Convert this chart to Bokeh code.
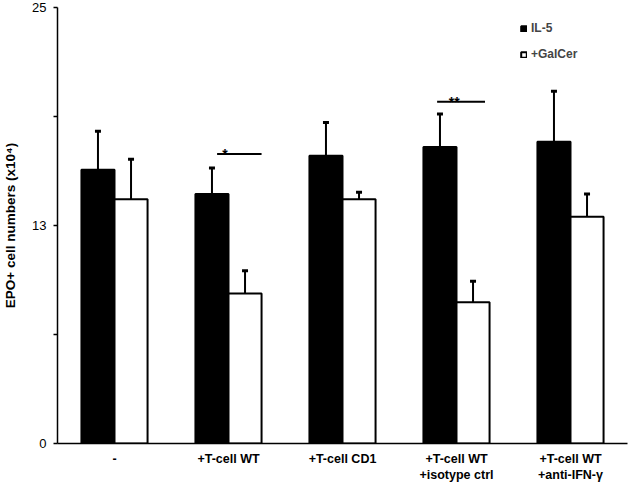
from bokeh.plotting import figure
from bokeh.models import (FactorRange, Range1d, FixedTicker, CustomJSTickFormatter,
                          ColumnDataSource, Legend, LegendItem)
from bokeh.transform import dodge
from bokeh.embed import file_html
from bokeh.resources import INLINE
from bokeh.core.properties import value

# ---- data ----
groups = ["-", "+T-cell WT", "+T-cell CD1", "+T-cell WT\n+isotype ctrl", "+T-cell WT\n+anti-IFN-γ"]
il5_mean = [15.7, 14.3, 16.5, 17.0, 17.3]
il5_err = [2.2, 1.5, 1.9, 1.9, 2.9]
galcer_mean = [14.0, 8.6, 14.0, 8.1, 13.0]
galcer_err = [2.3, 1.3, 0.4, 1.2, 1.3]
y_ticks = [0, 12.5, 25]
y_minor_ticks = [6.25, 18.75]
sig_groups = ["+T-cell WT", "+T-cell WT\n+isotype ctrl"]
sig_level = [16.6, 19.6]
sig_marks = ["*", "**"]

FONT = "Liberation Sans"

p = figure(width=629, height=485, output_backend="svg", toolbar_location=None,
           x_range=FactorRange(*groups, range_padding=0), y_range=Range1d(0, 25),
           min_border_left=54, min_border_right=2, min_border_top=7, min_border_bottom=42)
p.outline_line_color = None
p.xgrid.visible = False
p.ygrid.visible = False
p.background_fill_color = "white"

src = ColumnDataSource(dict(
    cat=groups,
    il5=il5_mean,
    il5_top=[m + e for m, e in zip(il5_mean, il5_err)],
    gal=galcer_mean,
    gal_top=[m + e for m, e in zip(galcer_mean, galcer_err)],
))

W = 0.29
OFF = 0.145
xb = dodge("cat", -OFF, range=p.x_range)
xw = dodge("cat", OFF, range=p.x_range)

# error stems + caps (drawn first so bar borders stay on top)
p.segment(x0=xb, y0="il5", x1=xb, y1="il5_top", source=src, line_color="black", line_width=2)
p.segment(x0=xw, y0="gal", x1=xw, y1="gal_top", source=src, line_color="black", line_width=2)
p.scatter(x=xb, y="il5_top", source=src, marker="dash", size=6, line_width=3, line_color="black")
p.scatter(x=xw, y="gal_top", source=src, marker="dash", size=6, line_width=3, line_color="black")

r1 = p.vbar(x=xb, top="il5", width=W, source=src, fill_color="black", line_color="black", line_width=2)
r2 = p.vbar(x=xw, top="gal", width=W, source=src, fill_color="white", line_color="black", line_width=2)

# significance annotations
sig_specs = [(-0.10, 0.29, -0.03), (-0.17, 0.25, -0.02)]
for g, lvl, mark, (a, b, c) in zip(sig_groups, sig_level, sig_marks, sig_specs):
    s = ColumnDataSource(dict(cat=[g], y=[lvl], t=[mark]))
    p.segment(x0=dodge("cat", a, range=p.x_range), y0="y",
              x1=dodge("cat", b, range=p.x_range), y1="y",
              source=s, line_color="black", line_width=2)
    p.text(x=dodge("cat", c, range=p.x_range), y="y", text="t", source=s,
           text_font=value(FONT), text_font_style="bold", text_font_size="14px",
           text_align="center", text_baseline="middle", y_offset=0, text_color="black")

# legend
legend = Legend(items=[LegendItem(label="IL-5", renderers=[r1]),
                       LegendItem(label="+GalCer", renderers=[r2])],
                location=(463, 382))
legend.border_line_color = None
legend.background_fill_alpha = 0
legend.label_text_font = FONT
legend.label_text_font_style = "bold"
legend.label_text_font_size = "12px"
legend.glyph_width = 7
legend.glyph_height = 7
legend.label_height = 12
legend.label_standoff = 4
legend.spacing = 12
legend.padding = 0
legend.margin = 0
p.add_layout(legend)

# y axis
ya = p.yaxis[0]
ya.ticker = FixedTicker(ticks=y_ticks, minor_ticks=y_minor_ticks)
ya.formatter = CustomJSTickFormatter(code="return Math.round(tick).toString();")
ya.axis_line_width = 1.5
ya.major_tick_line_width = 1.5
ya.minor_tick_line_width = 1.5
ya.major_tick_out = 4
ya.major_tick_in = 0
ya.minor_tick_out = 4
ya.minor_tick_in = 0
ya.major_label_standoff = 7
ya.major_label_text_font = FONT
ya.major_label_text_font_size = "13px"
ya.major_label_text_color = "black"
ya.axis_label = "EPO+ cell numbers (x10⁴)"
ya.axis_label_text_font = FONT
ya.axis_label_text_font_style = "bold"
ya.axis_label_text_font_size = "13.5px"
ya.axis_label_text_color = "black"
ya.axis_label_standoff = 11

# x axis
xa = p.xaxis[0]
xa.axis_line_width = 1.5
xa.major_tick_line_color = None
xa.minor_tick_line_color = None
xa.major_label_standoff = 2
xa.major_label_text_font = FONT
xa.major_label_text_font_style = "bold"
xa.major_label_text_font_size = "12.5px"
xa.major_label_text_color = "black"
xa.major_label_orientation = "horizontal"

open("out.html", "w").write(file_html(p, INLINE))
